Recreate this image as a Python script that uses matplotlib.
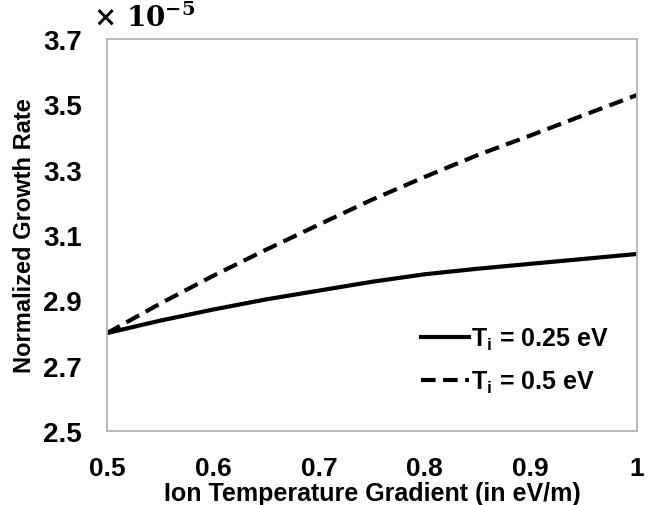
import matplotlib
matplotlib.use("Agg")
import matplotlib.pyplot as plt
from matplotlib.ticker import FuncFormatter

# Data (growth rate in units of 1e-5)
gradient = [0.5, 0.55, 0.6, 0.65, 0.7, 0.75, 0.8, 0.85, 0.9, 0.95, 1.0]
rate_ti_025 = [2.80, 2.838, 2.872, 2.903, 2.930, 2.957, 2.980, 2.997, 3.012, 3.027, 3.042]
rate_ti_05 = [2.80, 2.890, 2.975, 3.055, 3.132, 3.208, 3.278, 3.345, 3.405, 3.467, 3.528]
scale = 1e-5

y_ticks = [2.5, 2.7, 2.9, 3.1, 3.3, 3.5, 3.7]
x_ticks = [0.5, 0.6, 0.7, 0.8, 0.9, 1.0]

plt.rcParams['font.family'] = ['Liberation Sans', 'DejaVu Sans']
plt.rcParams['font.weight'] = 'bold'
plt.rcParams['mathtext.fontset'] = 'custom'
plt.rcParams['mathtext.rm'] = 'Liberation Sans:bold'
plt.rcParams['mathtext.it'] = 'Liberation Sans:bold'
plt.rcParams['mathtext.bf'] = 'Liberation Sans:bold'

fig = plt.figure(figsize=(6.53, 5.06), dpi=100)
ax = fig.add_axes([0.164, 0.146, 0.811, 0.775])

ax.plot(gradient, [v * scale for v in rate_ti_025], color='black', lw=3,
        label=r'T$_\mathregular{i}$ = 0.25 eV')
ax.plot(gradient, [v * scale for v in rate_ti_05], color='black', lw=3,
        dashes=(3.5, 1.8), label=r'T$_\mathregular{i}$ = 0.5 eV')

ax.set_xlim(0.5, 1.0)
ax.set_ylim(2.5 * scale, 3.7 * scale)
ax.set_xticks(x_ticks)
ax.set_yticks([t * scale for t in y_ticks])
ax.xaxis.set_major_formatter(FuncFormatter(lambda v, p: '1' if abs(v - 1) < 1e-9 else f'{v:.1f}'))
ax.yaxis.set_major_formatter(FuncFormatter(lambda v, p: f'{v / scale:.1f}'))
ax.tick_params(axis='x', length=0, labelsize=19, pad=18)
ax.tick_params(axis='y', length=0, labelsize=20, pad=18)

for s in ax.spines.values():
    s.set_color('#b4b4b4')
    s.set_linewidth(1.3)

ax.set_xlabel('Ion Temperature Gradient (in eV/m)', fontsize=18, fontweight='bold')
ax.set_ylabel('Normalized Growth Rate', fontsize=17, fontweight='bold')
ax.xaxis.set_label_coords(0.5, -0.128)
ax.yaxis.set_label_coords(-0.134, 0.5)

# exponent label at the top left
fig.text(0.143, 0.935, r'$\times\ \mathbf{10^{-5}}$', fontsize=20,
         math_fontfamily='dejavuserif', ha='left', va='bottom')

leg = ax.legend(loc='lower right', bbox_to_anchor=(0.99, 0.035), frameon=False,
                fontsize=18, handlelength=1.9, handletextpad=0.1, labelspacing=0.65)

fig.savefig('out.png', dpi=100)
